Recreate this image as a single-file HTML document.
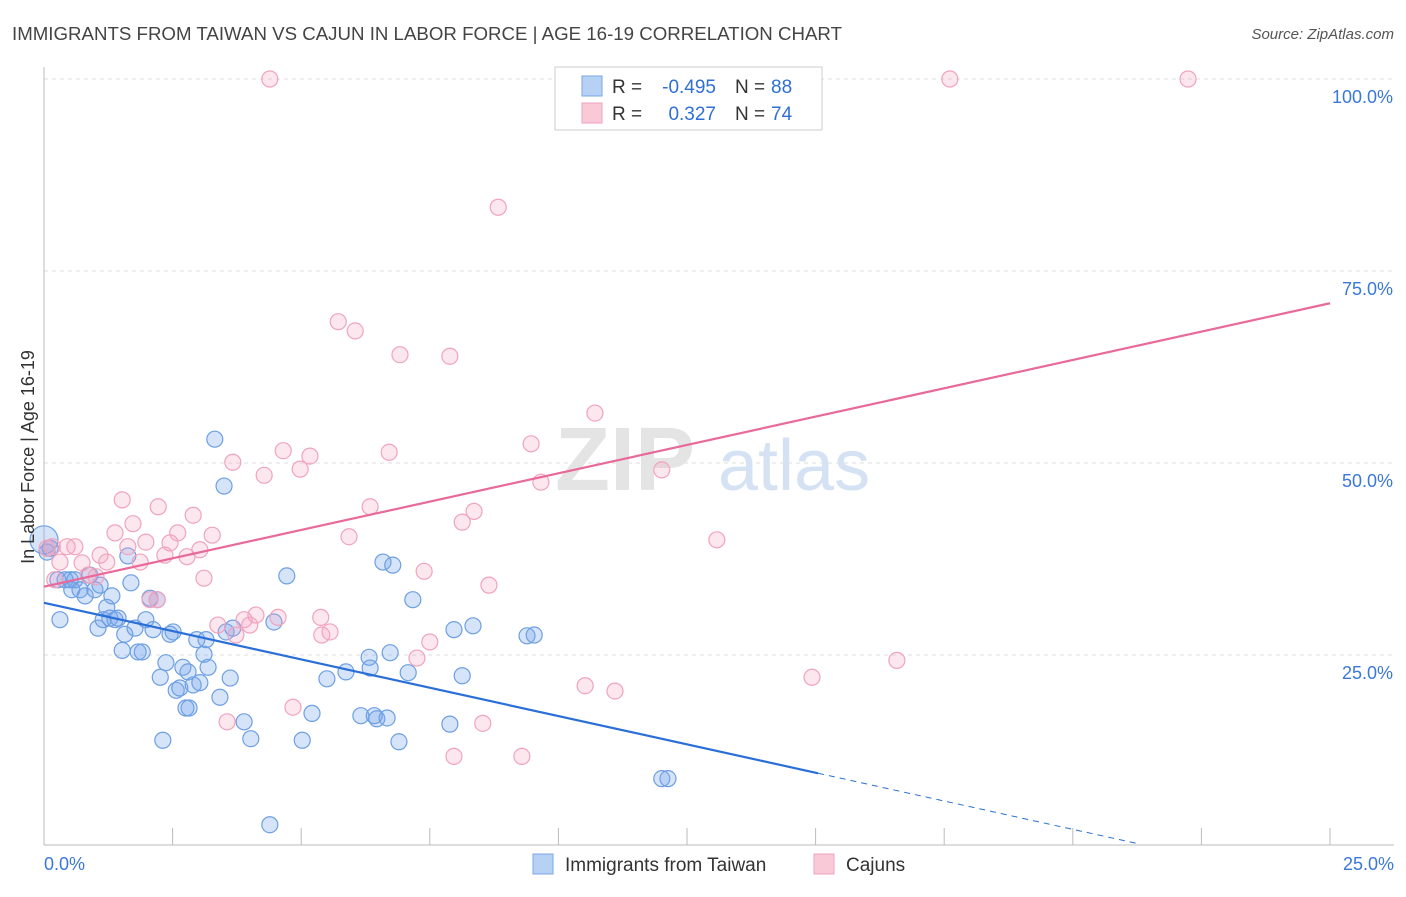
<!DOCTYPE html>
<html><head><meta charset="utf-8"><style>
body{margin:0;background:#fff;font-family:"Liberation Sans",sans-serif;}
svg text{font-family:"Liberation Sans",sans-serif;}
</style></head><body>
<svg id="chart" width="1406" height="892" xmlns="http://www.w3.org/2000/svg">
<text x="12" y="40" font-size="18" fill="#444" textLength="830" lengthAdjust="spacingAndGlyphs">IMMIGRANTS FROM TAIWAN VS CAJUN IN LABOR FORCE | AGE 16-19 CORRELATION CHART</text>
<text x="1394" y="39" font-size="15" font-style="italic" fill="#555" text-anchor="end">Source: ZipAtlas.com</text>
<g id="grid"></g>
<text x="555" y="490" font-size="90" font-family="Liberation Serif" fill="#e4e4e4" font-weight="bold">ZIP</text>
<text x="718" y="490" font-size="72" fill="#d4e2f4">atlas</text>
<g id="marks"></g>
<text transform="translate(34,457) rotate(-90)" font-size="18" fill="#333" text-anchor="middle">In Labor Force | Age 16-19</text>
<g>
<rect x="555" y="67" width="267" height="63" fill="#fff" stroke="#ccc"/>
<rect x="582" y="76" width="20" height="20" fill="#b7d1f4" stroke="#7aa7e6"/>
<rect x="582" y="103" width="20" height="20" fill="#f9c9d8" stroke="#eea3bb"/>
<text x="612" y="93" font-size="19" fill="#333">R =</text>
<text x="716" y="93" font-size="19" fill="#2f6fd6" text-anchor="end">-0.495</text>
<text x="735" y="93" font-size="19" fill="#333">N =</text>
<text x="771" y="93" font-size="19" fill="#2f6fd6">88</text>
<text x="612" y="120" font-size="19" fill="#333">R =</text>
<text x="716" y="120" font-size="19" fill="#2f6fd6" text-anchor="end">0.327</text>
<text x="735" y="120" font-size="19" fill="#333">N =</text>
<text x="771" y="120" font-size="19" fill="#2f6fd6">74</text>
</g>
<g>
<rect x="533" y="854" width="20" height="20" fill="#b7d1f4" stroke="#7aa7e6"/>
<text x="565" y="871" font-size="19" fill="#333">Immigrants from Taiwan</text>
<rect x="814" y="854" width="20" height="20" fill="#f9c9d8" stroke="#eea3bb"/>
<text x="846" y="871" font-size="19" fill="#333">Cajuns</text>
</g>
</svg>
<script>
const yTicks=[25,50,75,100];
const yTickLabels=["25.0%","50.0%","75.0%","100.0%"];
const xTicks=[0,2.5,5,7.5,10,12.5,15,17.5,20,22.5,25];
const xTickLabels=["0.0%","25.0%"];
const taiwanX=[0.0,0.06,0.12,0.31,0.27,0.41,0.51,0.6,0.54,0.7,0.8,0.89,0.99,1.09,1.05,1.15,1.22,1.28,1.38,1.44,1.32,1.52,1.57,1.63,1.69,1.77,1.83,1.91,1.98,2.06,2.12,2.2,2.26,2.31,2.37,2.45,2.51,2.57,2.64,2.7,2.76,2.82,2.8,2.9,2.97,3.03,3.11,3.15,3.19,3.32,3.42,3.5,3.54,3.62,3.67,3.89,4.02,4.39,4.47,4.72,5.02,5.21,5.5,5.87,6.16,6.32,6.34,6.47,6.42,6.59,6.67,6.73,6.78,6.9,7.08,7.17,7.89,7.97,8.13,8.34,9.39,9.53,12.01,12.13];
const taiwanY=[40.0,38.4,38.9,29.6,34.8,34.8,34.8,34.8,33.5,33.5,32.7,35.4,33.5,34.1,28.5,29.6,31.2,29.8,29.6,29.8,32.7,25.6,27.7,37.9,34.4,28.5,25.4,25.4,29.6,32.4,28.3,32.2,22.1,13.9,24.0,27.7,28.0,20.4,20.7,23.4,18.1,18.1,22.8,21.1,27.0,21.4,25.1,27.0,23.4,53.1,19.5,47.0,28.0,22.0,28.5,16.3,14.1,2.9,29.3,35.3,13.9,17.4,21.9,22.8,17.1,24.7,23.3,16.7,17.1,37.1,16.8,25.3,36.7,13.7,22.7,32.2,16.0,28.3,22.3,28.8,27.5,27.6,8.9,8.9];
const cajunX=[0.06,0.16,0.21,0.31,0.45,0.6,0.74,0.86,1.01,1.09,1.22,1.38,1.52,1.63,1.73,1.87,1.98,2.06,2.2,2.22,2.35,2.45,2.6,2.78,2.9,3.03,3.11,3.27,3.38,3.56,3.67,3.73,3.89,4.0,4.12,4.28,4.39,4.55,4.65,4.84,4.98,5.17,5.38,5.4,5.56,5.72,5.93,6.05,6.34,6.71,6.92,7.25,7.39,7.5,7.89,7.97,8.13,8.36,8.53,8.65,8.83,9.29,9.47,9.66,10.52,10.71,11.1,12.01,13.08,14.93,16.58,17.61,22.24];
const cajunY=[38.9,39.1,34.8,37.1,39.1,39.1,37.0,35.4,35.2,38.0,37.1,40.9,45.2,39.1,42.1,37.1,39.7,32.2,32.2,44.3,38.0,39.6,40.9,37.8,43.2,38.7,35.0,40.6,28.9,16.3,50.1,27.6,29.6,28.9,30.2,48.4,100,29.9,51.6,18.2,49.2,50.9,29.9,27.6,28.0,68.4,40.4,67.2,44.3,51.4,64.1,24.6,35.9,26.7,63.9,11.8,42.3,43.7,16.1,34.1,83.3,11.8,52.5,47.5,21.0,56.5,20.3,49.1,40.0,22.1,24.3,100,100];
const taiwanTrend=[31.8,-1.475]; // intercept, slope
const cajunTrend=[33.9,1.476];
const taiwanSolidEnd=15.05, taiwanDashEnd=21.3;

const NS="http://www.w3.org/2000/svg";
const X0=44,X1=1330,YB=847,YT=79;
const sx=v=>X0+(X1-X0)*v/25;
const sy=v=>YB-(YB-YT)*v/100;
function mk(tag,attrs,parent){const e=document.createElementNS(NS,tag);for(const k in attrs)e.setAttribute(k,attrs[k]);parent.appendChild(e);return e;}
const grid=document.getElementById('grid'), marks=document.getElementById('marks');
yTicks.forEach((t,i)=>{
 const l=mk('line',{x1:X0,x2:1394,y1:sy(t),y2:sy(t),stroke:'#ddd','stroke-dasharray':'4,4'},grid);
 
 
 const tx=mk('text',{x:1393,y:sy(t)+24,'font-size':18,fill:'#3a78d8','text-anchor':'end'},grid);
 tx.textContent=yTickLabels[i];
 
 
});
const ax=mk('line',{x1:X0,x2:X0,y1:67,y2:845,stroke:'#bbb'},grid);


const bx=mk('line',{x1:X0,x2:1394,y1:845,y2:845,stroke:'#bbb'},grid);


xTicks.forEach(t=>{
 const l=mk('line',{x1:sx(t),x2:sx(t),y1:828,y2:845,stroke:'#bbb'},grid);
 
 
});
[[0,'start',44],[25,'end',1394]].forEach((p,i)=>{
 const tx=mk('text',{x:p[2],y:870,'font-size':18,fill:'#3a78d8','text-anchor':p[1]},grid);
 tx.textContent=xTickLabels[i];
 
 
});
taiwanX.forEach((x,i)=>{
 const c=mk('circle',{cx:sx(x),cy:sy(taiwanY[i]),r:i===0?14:8,fill:'rgba(120,165,235,0.3)',stroke:'#6d9fe3','stroke-width':1.2},marks);
 
 
});
cajunX.forEach((x,i)=>{
 const c=mk('circle',{cx:sx(x),cy:sy(cajunY[i]),r:8,fill:'rgba(245,160,190,0.25)',stroke:'#f0a3bd','stroke-width':1.2},marks);
 
 
});
const f=(tr,x)=>tr[0]+tr[1]*x;
const tl=mk('line',{x1:sx(0),y1:sy(f(taiwanTrend,0)),x2:sx(taiwanSolidEnd),y2:sy(f(taiwanTrend,taiwanSolidEnd)),stroke:'#2a6fd8','stroke-width':2.2},marks);


const td=mk('line',{x1:sx(taiwanSolidEnd),y1:sy(f(taiwanTrend,taiwanSolidEnd)),x2:sx(taiwanDashEnd),y2:sy(f(taiwanTrend,taiwanDashEnd)),stroke:'#2a6fd8','stroke-width':1,'stroke-dasharray':'6,5'},marks);


const cl=mk('line',{x1:sx(0),y1:sy(f(cajunTrend,0)),x2:sx(25),y2:sy(f(cajunTrend,25)),stroke:'#e8699a','stroke-width':2.2},marks);


</script>
</body></html>
